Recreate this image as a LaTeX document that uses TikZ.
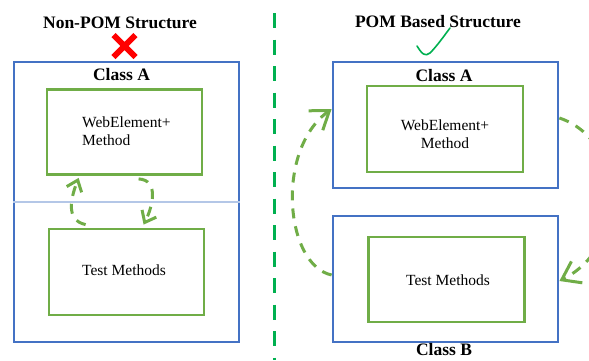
\documentclass[tikz,border=0pt]{standalone}
\usepackage{fontspec}
\setmainfont{Liberation Serif}
\usetikzlibrary{arrows.meta,calc}
\definecolor{boxblue}{HTML}{4472C4}
\definecolor{boxgreen}{HTML}{70AD47}
\definecolor{sepgreen}{HTML}{00B050}
\definecolor{lightblue}{HTML}{B4C7E7}
\begin{document}
\begin{tikzpicture}[x=1pt,y=-1pt,
  outerbox/.style={draw=boxblue,line width=2.8pt,inner sep=0pt,minimum width=225pt},
  innerbox/.style={draw=boxgreen,line width=2.8pt,inner sep=0pt},
  titletext/.style={font=\bfseries\fontsize{17.5}{21}\selectfont,anchor=base,inner sep=0pt},
  bodytext/.style={font=\fontsize{15.5}{18}\selectfont,anchor=base,inner sep=0pt},
  arr/.style={draw=boxgreen,line width=3pt,dash pattern=on 10pt off 8pt},
  smalltip/.style={-{Straight Barb[length=10pt,width=16pt]}},
  bigtip/.style={-{Straight Barb[length=17pt,width=24pt]}}]
\useasboundingbox (0,0) rectangle (589,360);
\clip (0,0) rectangle (589,360);

% ---------- left panel ----------
\node[titletext] (ltitle) at (120,28) {Non-POM Structure};
\coordinate (xmark) at (124.5,46);
\draw[red,line width=6pt] ($(xmark)+(-11,-11)$) -- ($(xmark)+(11,11)$)
                          ($(xmark)+(11,-11)$) -- ($(xmark)+(-11,11)$);
\node[outerbox,minimum height=280pt] (Louter) at (126.5,202) {};
\draw[lightblue,line width=1.2pt] (Louter.west) -- (Louter.east);
\node[titletext] (lclassA) at (121.5,80) {Class A};
\node[innerbox,minimum width=155pt,minimum height=85pt] (Ltop) at (124.5,132) {};
\node[innerbox,minimum width=155pt,minimum height=86pt] (Lbot) at (126.5,272) {};
\node[bodytext,anchor=base west] (lweb1) at (82,127) {WebElement+};
\node[bodytext,anchor=base west] (lweb2) at (82,145) {Method};
\node[bodytext] (ltest) at (124,275) {Test Methods};
\draw[arr,smalltip] ($(Lbot.north west)+(38,-3)$) .. controls (64,220) and (72,195) .. ($(Ltop.south west)+(33,2)$);
\draw[arr,smalltip] ($(Ltop.south west)+(93,3)$) .. controls (160,180) and (152,208) .. ($(Lbot.north west)+(96,-3)$);

% ---------- separator ----------
\coordinate (septop) at (274,13);
\coordinate (sepbot) at (274,360);
\draw[sepgreen,line width=3pt,dash pattern=on 15pt off 11.5pt] (septop) -- (sepbot);

% ---------- right panel ----------
\node[titletext] (rtitle) at (438,27.5) {POM Based Structure};
\coordinate (chk) at (417,46);
\draw[sepgreen,line width=1.6pt,line cap=round,line join=round]
  (chk) .. controls ($(chk)+(5,8)$) and ($(chk)+(8,11)$) .. ($(chk)+(13,7)$)
        .. controls ($(chk)+(20,0)$) and ($(chk)+(27,-10)$) .. ($(chk)+(33,-18)$);
\node[outerbox,minimum height=126pt] (Rtop) at (445.5,125) {};
\node[titletext] (rclassA) at (444,81.5) {Class A};
\node[innerbox,minimum width=156pt,minimum height=86pt] (RtopIn) at (445,129) {};
\node[bodytext] (rweb1) at (445,130) {WebElement+};
\node[bodytext] (rweb2) at (445,148) {Method};
\node[outerbox,minimum height=126pt] (Rbot) at (445.5,279) {};
\node[innerbox,minimum width=156pt,minimum height=85pt] (RbotIn) at (446.5,279.5) {};
\node[bodytext] (rtest) at (448,285) {Test Methods};
\node[titletext] (rclassB) at (444,355) {Class B};
\draw[arr,bigtip] ($(Rbot.west)+(0,-4)$) .. controls (285,265) and (275,150) .. ($(Rtop.west)+(0,-16)$);
\draw[arr,bigtip] ($(Rtop.east)+(0,-7)$) .. controls (625,140) and (630,245) .. ($(Rbot.east)+(0,2)$);
\end{tikzpicture}
\end{document}
